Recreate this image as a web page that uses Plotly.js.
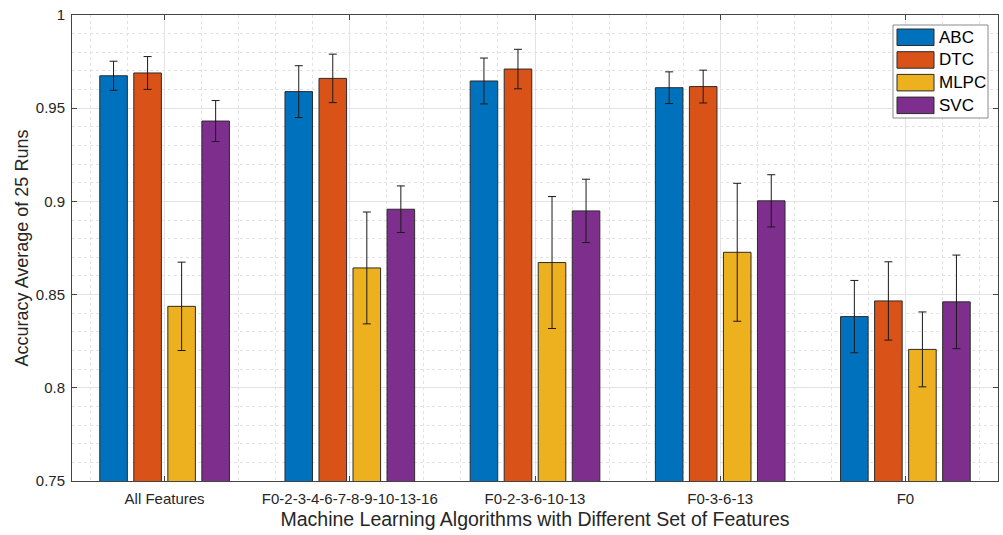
<!DOCTYPE html>
<html>
<head>
<meta charset="utf-8">
<script src="https://cdn.plot.ly/plotly-3.0.1.min.js"></script>
<style>
  html, body { margin: 0; padding: 0; background: #fff; }
  #chart { width: 1003px; height: 535px; }
</style>
</head>
<body>
<div id="chart"></div>
<script>
// Feature sets evaluated
const featureSets = ["All Features", "F0-2-3-4-6-7-8-9-10-13-16", "F0-2-3-6-10-13", "F0-3-6-13", "F0"];
const groupPos = [1, 2, 3, 4, 5];

// Mean accuracy over 25 runs, per classifier
const abcMean  = [0.9674, 0.9589, 0.9646, 0.9610, 0.8382];
const dtcMean  = [0.9689, 0.9660, 0.9710, 0.9616, 0.8466];
const mlpcMean = [0.8437, 0.8643, 0.8672, 0.8727, 0.8206];
const svcMean  = [0.9431, 0.8958, 0.8949, 0.9003, 0.8461];

// Standard deviation (error bar half-length)
const abcStd  = [0.0078, 0.0139, 0.0123, 0.0085, 0.0194];
const dtcStd  = [0.0088, 0.0130, 0.0106, 0.0088, 0.0210];
const mlpcStd = [0.0237, 0.0300, 0.0354, 0.0370, 0.0201];
const svcStd  = [0.0110, 0.0125, 0.0170, 0.0140, 0.0251];

const seriesNames = ["ABC", "DTC", "MLPC", "SVC"];
const seriesColors = ["#0072BD", "#D95319", "#EDB120", "#7E2F8E"];
const means = [abcMean, dtcMean, mlpcMean, svcMean];
const stds = [abcStd, dtcStd, mlpcStd, svcStd];

const FONT = "Liberation Sans, Arial, Helvetica, sans-serif";
const edgeColor = "#2b2b2b";

const traces = seriesNames.map((name, i) => ({
  type: "bar",
  name: name,
  x: groupPos,
  y: means[i],
  showlegend: false,
  marker: { color: seriesColors[i], line: { color: edgeColor, width: 1 } },
  error_y: { type: "data", array: stds[i], visible: true, color: "#1a1a1a", thickness: 1, width: 4 }
}));

// Plot area in pixels (used to place the boxed legend)
const W = 1003, H = 535;
const M = { l: 72, r: 5, t: 15, b: 54 };
const pw = W - M.l - M.r, ph = H - M.t - M.b;
const px = v => (v - M.l) / pw;
const py = v => (H - M.b - v) / ph;

// Legend: framed box with wide colour swatches
const legBox = { x0: 893, x1: 988, y0: 25, y1: 118 };
const rowTop = 29, rowStep = 22.7, swH = 16.5, swX0 = 897, swX1 = 934, textX = 937;

const shapes = [{
  type: "rect", xref: "paper", yref: "paper",
  x0: px(legBox.x0), x1: px(legBox.x1), y0: py(legBox.y1), y1: py(legBox.y0),
  fillcolor: "#fff", line: { color: "#8a8a8a", width: 1 }, layer: "above"
}];
const annotations = [];
seriesNames.forEach((name, i) => {
  const top = rowTop + i * rowStep;
  shapes.push({
    type: "rect", xref: "paper", yref: "paper",
    x0: px(swX0), x1: px(swX1), y0: py(top + swH), y1: py(top),
    fillcolor: seriesColors[i], line: { color: edgeColor, width: 1 }, layer: "above"
  });
  annotations.push({
    xref: "paper", yref: "paper", x: px(textX), y: py(top + swH / 2),
    xanchor: "left", yanchor: "middle", showarrow: false, text: name,
    font: { family: FONT, size: 17, color: "#000" }
  });
});

const tickFont = { family: FONT, size: 15, color: "#262626" };

const layout = {
  width: W,
  height: H,
  margin: M,
  paper_bgcolor: "#fff",
  plot_bgcolor: "#fff",
  barmode: "group",
  bargap: 0.265,
  bargroupgap: 0.19,
  showlegend: false,
  shapes: shapes,
  annotations: annotations,
  xaxis: {
    range: [0.5, 5.5],
    tickvals: groupPos,
    ticktext: featureSets,
    tickfont: tickFont,
    ticklabelstandoff: 4,
    ticks: "inside", ticklen: 5, tickcolor: "#444",
    showline: true, linecolor: "#444", linewidth: 1, mirror: "ticks",
    showgrid: true, gridcolor: "#e3e3e3", gridwidth: 1,
    zeroline: false,
    minor: { dtick: 0.2, showgrid: true, gridcolor: "#e3e3e3", griddash: "dot", gridwidth: 1, ticks: "" },
    title: { text: "Machine Learning Algorithms with Different Set of Features",
             font: { family: FONT, size: 19.5, color: "#262626" }, standoff: 6 }
  },
  yaxis: {
    range: [0.75, 1],
    tickvals: [0.75, 0.8, 0.85, 0.9, 0.95, 1],
    ticktext: ["0.75", "0.8", "0.85", "0.9", "0.95", "1"],
    tickfont: tickFont,
    ticklabelstandoff: 3,
    ticks: "inside", ticklen: 5, tickcolor: "#444",
    showline: true, linecolor: "#444", linewidth: 1, mirror: "ticks",
    showgrid: true, gridcolor: "#e3e3e3", gridwidth: 1,
    zeroline: false,
    minor: { tickvals: [0.76,0.77,0.78,0.79,0.81,0.82,0.83,0.84,0.86,0.87,0.88,0.89,0.91,0.92,0.93,0.94,0.96,0.97,0.98,0.99],
             showgrid: true, gridcolor: "#e3e3e3", griddash: "dot", gridwidth: 1, ticks: "" },
    title: { text: "Accuracy Average of 25 Runs",
             font: { family: FONT, size: 18, color: "#262626" }, standoff: 2 }
  }
};

Plotly.newPlot("chart", traces, layout, { displayModeBar: false, staticPlot: true });
</script>
</body>
</html>
